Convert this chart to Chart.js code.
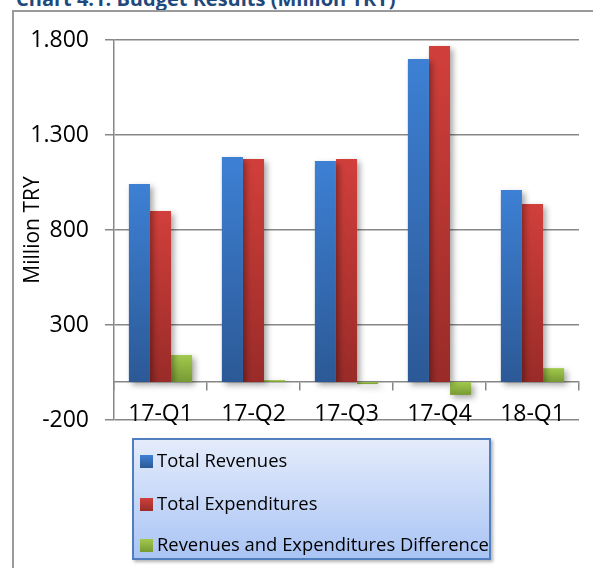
<!DOCTYPE html>
<html>
<head>
<meta charset="utf-8">
<script src="https://cdn.jsdelivr.net/npm/chart.js@4"></script>
<style>
  body { margin: 0; background: #fff; overflow: hidden; }
  #wrap { position: relative; width: 593px; height: 568px; overflow: hidden; font-family: "Open Sans", sans-serif; }
  #titulo { position: absolute; left: 16px; top: -15px; font-weight: bold; font-size: 20px; color: #1f497d; white-space: nowrap; }
  #marco { position: absolute; left: 12px; top: 10px; width: 700px; height: 700px; border: 2px solid #9a9a9a; }
  #lienzo { position: absolute; left: 0; top: 0; width: 593px; height: 568px; }
  #leyenda { position: absolute; left: 132px; top: 438px; width: 355px; height: 118px; border: 2px solid #4f7fbf;
    background: linear-gradient(#e4ecfc, #a9c4f4); box-shadow: 2px 2px 3px rgba(0,0,0,0.3); }
  .item { position: absolute; left: 6px; height: 22px; line-height: 22px; font-size: 18.4px; color: #000; white-space: nowrap; }
  .item span.cuadro { display: inline-block; width: 13px; height: 13px; margin-right: 4px; vertical-align: -1px; }
</style>
</head>
<body>
<div id="wrap">
  <div id="titulo">Chart 4.1: Budget Results (Million TRY)</div>
  <div id="marco"></div>
  <div id="lienzo"><canvas id="grafico"></canvas></div>
  <div id="leyenda"></div>
</div>
<script>
// datos del grafico
var trimestres = ['17-Q1', '17-Q2', '17-Q3', '17-Q4', '18-Q1'];
var ingresos = [1042, 1184, 1163, 1700, 1010];
var gastos = [900, 1174, 1174, 1768, 937];
var diferencia = [142, 10, -11, -68, 73];
var nombresSeries = ['Total Revenues', 'Total Expenditures', 'Revenues and Expenditures Difference'];
var marcasY = [-200, 300, 800, 1300, 1800];

// colores (arriba, abajo) para el degradado de cada barra
var colores = [
  ['#3d80d4', '#2c5996'],
  ['#d13f3b', '#992b28'],
  ['#a2c94d', '#779a33']
];

function degradado(arriba, abajo) {
  return function (ctx) {
    var chart = ctx.chart;
    if (ctx.type !== 'data' || !chart.chartArea) return abajo;
    var y = chart.scales.y;
    var p0 = y.getPixelForValue(0);
    var p1 = y.getPixelForValue(ctx.raw);
    var a = Math.min(p0, p1), b = Math.max(p0, p1);
    if (b - a < 1) return arriba;
    var g = chart.ctx.createLinearGradient(0, a, 0, b);
    g.addColorStop(0, arriba);
    g.addColorStop(1, abajo);
    return g;
  };
}

function formatoMiles(v) {
  return String(v).replace(/\B(?=(\d{3})+(?!\d))/g, '.');
}

// sombra de las barras
var sombra = {
  id: 'sombra',
  beforeDatasetsDraw: function (chart) {
    var c = chart.ctx;
    c.save();
    c.shadowColor = 'rgba(0,0,0,0.35)';
    c.shadowBlur = 6;
    c.shadowOffsetX = 3;
    c.shadowOffsetY = 3;
  },
  afterDatasetsDraw: function (chart) {
    chart.ctx.restore();
  }
};

var series = [ingresos, gastos, diferencia];
var datasets = series.map(function (valores, i) {
  return {
    label: nombresSeries[i],
    data: valores,
    backgroundColor: degradado(colores[i][0], colores[i][1]),
    borderWidth: 0,
    barPercentage: 1,
    categoryPercentage: 0.68
  };
});

var gris = '#878787';
var fuente = { family: '"Open Sans", sans-serif', size: 23 };
var fuenteTitulo = { family: '"Open Sans", sans-serif', size: 21 };

new Chart(document.getElementById('grafico'), {
  type: 'bar',
  data: { labels: trimestres, datasets: datasets },
  plugins: [sombra],
  options: {
    responsive: true,
    maintainAspectRatio: false,
    animation: false,
    layout: { padding: { left: 14, top: 40, right: 14, bottom: 148 } },
    plugins: { legend: { display: false }, tooltip: { enabled: false } },
    scales: {
      x: {
        position: { y: 0 },
        afterFit: function (s) { s.height = 0; },
        grid: { drawOnChartArea: false, drawTicks: true, tickLength: 8, color: gris, lineWidth: 1.5, offset: true },
        border: { display: true, color: gris, width: 1.5 },
        ticks: { color: '#000', font: fuente, padding: 11, maxRotation: 0 }
      },
      y: {
        min: -200,
        max: 1800,
        afterFit: function (s) { s.width = 100; },
        afterBuildTicks: function (s) { s.ticks = marcasY.map(function (v) { return { value: v }; }); },
        grid: { color: gris, lineWidth: 1.5, tickLength: 9 },
        border: { display: true, color: gris, width: 1.5 },
        ticks: { color: '#000', font: fuente, padding: 16, callback: function (v) { return formatoMiles(v); } },
        title: { display: true, text: 'Million TRY', color: '#000', font: fuenteTitulo, padding: { top: 6, bottom: 0 } }
      }
    }
  }
});

// leyenda en html
var leyenda = document.getElementById('leyenda');
var filas = [9, 52, 93];
nombresSeries.forEach(function (nombre, i) {
  var d = document.createElement('div');
  d.className = 'item';
  d.style.top = filas[i] + 'px';
  var q = document.createElement('span');
  q.className = 'cuadro';
  q.style.background = 'linear-gradient(' + colores[i][0] + ',' + colores[i][1] + ')';
  d.appendChild(q);
  d.appendChild(document.createTextNode(nombre));
  leyenda.appendChild(d);
});
</script>
</body>
</html>
